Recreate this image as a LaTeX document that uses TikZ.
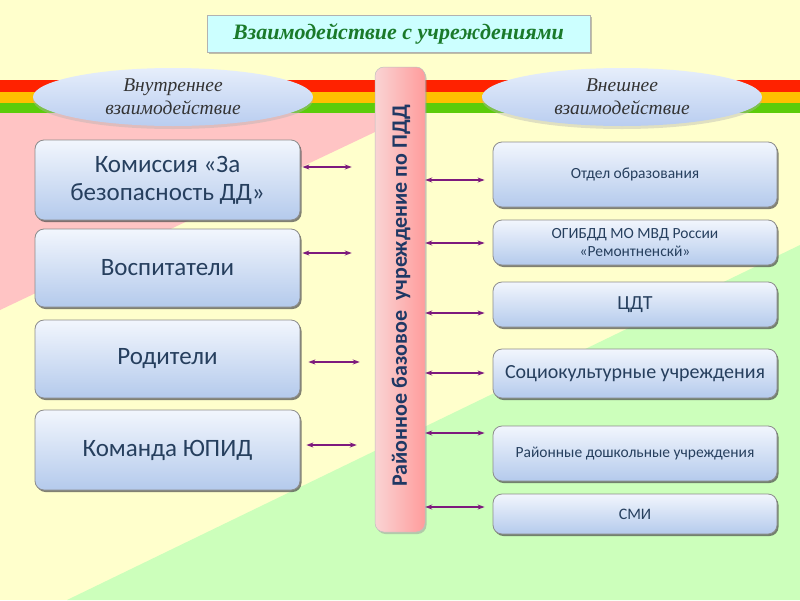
\documentclass[tikz,border=0pt]{standalone}
\usepackage{fontspec}
\setmainfont{Carlito}
\newfontfamily\serifit{Liberation Serif}
\usetikzlibrary{shapes.geometric,shadows,arrows.meta}

\definecolor{bgyellow}{HTML}{FFFFCC}
\definecolor{bgpink}{HTML}{FFC4C4}
\definecolor{bggreen}{HTML}{CCFFBB}
\definecolor{stred}{HTML}{FF2200}
\definecolor{storange}{HTML}{FFC000}
\definecolor{stgreen}{HTML}{5CCC0A}
\definecolor{boxtop}{HTML}{F2F6FD}
\definecolor{boxbot}{HTML}{B4CAEC}
\definecolor{boxtext}{HTML}{263F5E}
\definecolor{pilltext}{HTML}{1F3864}
\definecolor{pillL}{HTML}{F9D4D4}
\definecolor{pillR}{HTML}{FF9C9C}
\definecolor{arrcol}{HTML}{7D1A7D}
\definecolor{titlefill}{HTML}{CCFFFF}
\definecolor{titletext}{HTML}{1A7A2A}
\definecolor{elltop}{HTML}{E6EEFB}
\definecolor{ellbot}{HTML}{B9CDF0}

\tikzset{
  box/.style={rectangle, rounded corners=9pt, top color=boxtop, bottom color=boxbot,
    draw=black!45, line width=0.8pt, text=boxtext, align=center,
    drop shadow={shadow xshift=1.5pt, shadow yshift=-2pt, fill=black!70, opacity=0.7}},
  lbox/.style={box, minimum width=265pt, font=\fontsize{25}{28}\selectfont},
  rbox/.style={box, minimum width=284pt},
  oval/.style={ellipse, minimum width=280pt, minimum height=58pt, inner sep=0pt,
    top color=elltop, bottom color=ellbot, draw=none, align=center,
    font=\serifit\itshape\fontsize{19.5}{23}\selectfont, text=black!80,
    drop shadow={shadow xshift=0pt, shadow yshift=-3pt, fill=black!30, opacity=0.4}},
  pillar/.style={rectangle, rounded corners=9pt, left color=pillL, right color=pillR,
    draw=black!25, line width=0.5pt, minimum width=50pt, minimum height=465pt,
    drop shadow={shadow xshift=1.5pt, shadow yshift=-2pt, fill=black!40, opacity=0.5}},
  arr/.style={arrcol, line width=1.2pt, {Stealth[length=7pt,width=5pt]}-{Stealth[length=7pt,width=5pt]}}
}

\begin{document}
\begin{tikzpicture}[x=1pt,y=-1pt]
\useasboundingbox (0,0) rectangle (800,600);
% background
\fill[bgyellow] (0,0) rectangle (800,600);
\fill[bgpink] (0,113) -- (415,113) -- (0,310) -- cycle;
\fill[bggreen] (67,600) -- (800,245) -- (800,600) -- cycle;
\fill[stred] (0,80) rectangle (800,92);
\fill[storange] (0,92) rectangle (800,103);
\fill[stgreen] (0,103) rectangle (800,113);

% title
\node[rectangle, fill=titlefill, draw=black!30, line width=0.5pt,
  minimum width=383pt, minimum height=37pt, text=titletext,
  font=\serifit\bfseries\itshape\fontsize{22}{26}\selectfont,
  drop shadow={shadow xshift=2pt, shadow yshift=-2pt, fill=black!50, opacity=0.5}]
  (T) at (398.5,33.5) {Взаимодействие с учреждениями};

% ovals
\node[oval] (EL) at (173,97) {Внутреннее\\взаимодействие};
\node[oval] (ER) at (622,97) {Внешнее\\взаимодействие};

% pillar
\node[pillar] (P) at (400,299.5) {};
\node[rotate=90, text=pilltext, font=\bfseries\fontsize{22}{26}\selectfont]
  (PT) at (401,296) {Районное базовое\ \ учреждение по ПДД};

% left boxes
\node[lbox, minimum height=80pt] (L1) at (167.5,180) {Комиссия «За\\безопасность ДД»};
\node[lbox, minimum height=78pt] (L2) at (167.5,268) {Воспитатели};
\node[lbox, minimum height=78pt] (L3) at (167.5,359) {Родители};
\node[lbox, minimum height=80pt] (L4) at (167.5,450) {Команда ЮПИД};

% right boxes
\node[rbox, minimum height=65pt, font=\fontsize{15.5}{18}\selectfont] (R1) at (635,174.5) {Отдел образования};
\node[rbox, minimum height=45pt, font=\fontsize{15.5}{18}\selectfont] (R2) at (635,242.5) {ОГИБДД МО МВД России\\«Ремонтненскй»};
\node[rbox, minimum height=45pt, font=\fontsize{20}{24}\selectfont] (R3) at (635,304.5) {ЦДТ};
\node[rbox, minimum height=49pt, font=\fontsize{20}{24}\selectfont] (R4) at (635,373.5) {Социокультурные учреждения};
\node[rbox, minimum height=55pt, font=\fontsize{15.5}{18}\selectfont] (R5) at (635,453.5) {Районные дошкольные учреждения};
\node[rbox, minimum height=40pt, font=\fontsize{16}{19}\selectfont] (R6) at (635,514) {СМИ};

% left arrows
\coordinate (a1) at ([yshift=13pt]L1.east);
\coordinate (a2) at ([yshift=15pt]L2.east);
\coordinate (a3) at ([yshift=-3pt]L3.east);
\coordinate (a4) at ([yshift=5pt]L4.east);
\draw[arr, shorten <=2pt, shorten >=23pt] (a1) -- (a1 -| P.west);
\draw[arr, shorten <=2pt, shorten >=23pt] (a2) -- (a2 -| P.west);
\draw[arr, shorten <=8pt, shorten >=15pt] (a3) -- (a3 -| P.west);
\draw[arr, shorten <=6pt, shorten >=18pt] (a4) -- (a4 -| P.west);

% right arrows
\coordinate (b1) at ([yshift=-5.5pt]R1.west);
\coordinate (b2) at ([yshift=-0.5pt]R2.west);
\coordinate (b3) at ([yshift=-8.5pt]R3.west);
\coordinate (b4) at ([yshift=0.5pt]R4.west);
\coordinate (b5) at ([yshift=20.5pt]R5.west);
\coordinate (b6) at ([yshift=7pt]R6.west);
\foreach \b in {b1,b2,b3,b4,b5,b6}
  \draw[arr, shorten >=8pt] (\b -| P.east) -- (\b);
\end{tikzpicture}
\end{document}
